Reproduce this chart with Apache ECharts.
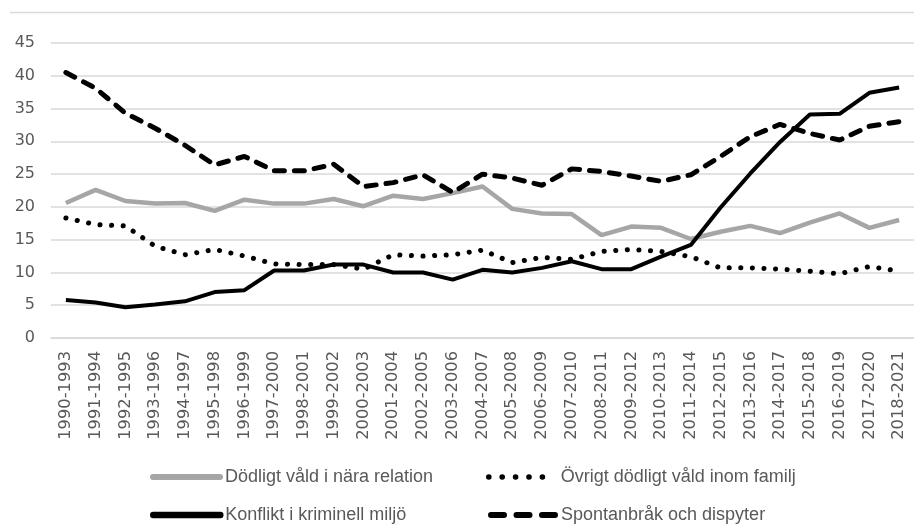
<!DOCTYPE html>
<html>
<head>
<meta charset="utf-8">
<script src="https://cdn.jsdelivr.net/npm/echarts@6/dist/echarts.min.js"></script>
<style>
html,body{margin:0;padding:0;background:#fff;}
#chart{width:914px;height:524px;}
</style>
</head>
<body>
<div id="chart"></div>
<script>
const categories = ['1990-1993','1991-1994','1992-1995','1993-1996','1994-1997','1995-1998','1996-1999','1997-2000','1998-2001','1999-2002','2000-2003','2001-2004','2002-2005','2003-2006','2004-2007','2005-2008','2006-2009','2007-2010','2008-2011','2009-2012','2010-2013','2011-2014','2012-2015','2013-2016','2014-2017','2015-2018','2016-2019','2017-2020','2018-2021'];

const nameNara = 'Dödligt våld i nära relation';
const nameOvrigt = 'Övrigt dödligt våld inom familj';
const nameKonflikt = 'Konflikt i kriminell miljö';
const nameSpontan = 'Spontanbråk och dispyter';

const naraRelation = [20.6,22.6,20.9,20.5,20.6,19.4,21.1,20.5,20.5,21.2,20.1,21.7,21.2,22.1,23.1,19.7,19.0,18.9,15.7,17.0,16.8,15.1,16.2,17.1,16.0,17.6,19.0,16.8,18.0];
const ovrigtFamilj = [18.3,17.3,17.1,14.0,12.7,13.5,12.5,11.3,11.2,11.2,10.5,12.7,12.5,12.7,13.4,11.5,12.3,12.0,13.2,13.5,13.2,12.4,10.7,10.7,10.5,10.2,9.8,10.9,10.2];
const konfliktKriminell = [5.8,5.4,4.7,5.1,5.6,7.0,7.3,10.3,10.3,11.2,11.2,10.0,10.0,8.9,10.4,10.0,10.7,11.7,10.5,10.5,12.4,14.2,19.9,25.1,29.9,34.1,34.2,37.4,38.2];
const spontanbrak = [40.5,38.1,34.3,32.0,29.4,26.4,27.7,25.5,25.5,26.5,23.1,23.7,24.9,22.2,25.0,24.4,23.3,25.8,25.4,24.7,23.9,24.9,27.7,30.7,32.6,31.2,30.2,32.3,33.0];

const yTicks = {min: 0, max: 45, interval: 5};

const chart = echarts.init(document.getElementById('chart'), null, {renderer: 'canvas'});
const legendText = {fontFamily: "'Liberation Sans Narrow', 'Liberation Sans', Arial, sans-serif", fontSize: 18, color: '#595959'};
function leg(name, left, top, w, lineStyle) {
  return {data: [name], left: left, top: top, itemWidth: w, itemHeight: 12, itemGap: 0, padding: 0,
    textStyle: legendText, selectedMode: false,
    itemStyle: {opacity: 0}, lineStyle: lineStyle};
}
chart.setOption({
  animation: false,
  backgroundColor: '#ffffff',
  grid: {left: 51, top: 43, width: 874, height: 295, containLabel: false},
  graphic: [{type: 'line', shape: {x1: 10, y1: 12.5, x2: 914, y2: 12.5}, style: {stroke: '#d9d9d9', lineWidth: 1.5}}],
  legend: [
    leg(nameNara, 150, 468, 67, {width: 6, cap: 'round', type: 'solid'}),
    leg(nameOvrigt, 486, 468, 67, {width: 5.5, cap: 'round', type: [0.1, 13.3]}),
    leg(nameKonflikt, 150, 506, 67, {width: 6.5, cap: 'round', type: 'solid'}),
    leg(nameSpontan, 488, 506, 65, {width: 6, cap: 'round', type: [13, 12.5]})
  ],
  xAxis: {
    type: 'category', data: categories, boundaryGap: true,
    axisLine: {show: true, lineStyle: {color: '#d9d9d9', width: 1.5}},
    axisTick: {show: false},
    axisLabel: {rotate: 90, interval: 0, margin: 13, fontFamily: "'DejaVu Sans', sans-serif", fontSize: 16.3, color: '#595959'}
  },
  yAxis: {
    type: 'value', min: yTicks.min, max: yTicks.max, interval: yTicks.interval,
    axisLine: {show: false}, axisTick: {show: false},
    splitLine: {show: true, lineStyle: {color: '#d9d9d9', width: 1.5}},
    axisLabel: {margin: 16, fontFamily: "'DejaVu Sans', sans-serif", fontSize: 16, color: '#595959'}
  },
  series: [
    {name: nameNara, type: 'line', data: naraRelation, symbol: 'none',
      lineStyle: {color: '#a6a6a6', width: 4.5}, itemStyle: {color: '#a6a6a6'}},
    {name: nameOvrigt, type: 'line', data: ovrigtFamilj, symbol: 'none',
      lineStyle: {color: '#000', width: 5, type: [0.1, 11.5], cap: 'round'}, itemStyle: {color: '#000'}},
    {name: nameSpontan, type: 'line', data: spontanbrak, symbol: 'none',
      lineStyle: {color: '#000', width: 5, type: [10, 10], cap: 'round'}, itemStyle: {color: '#000'}},
    {name: nameKonflikt, type: 'line', data: konfliktKriminell, symbol: 'none',
      lineStyle: {color: '#000', width: 4}, itemStyle: {color: '#000'}}
  ]
});
</script>
</body>
</html>
